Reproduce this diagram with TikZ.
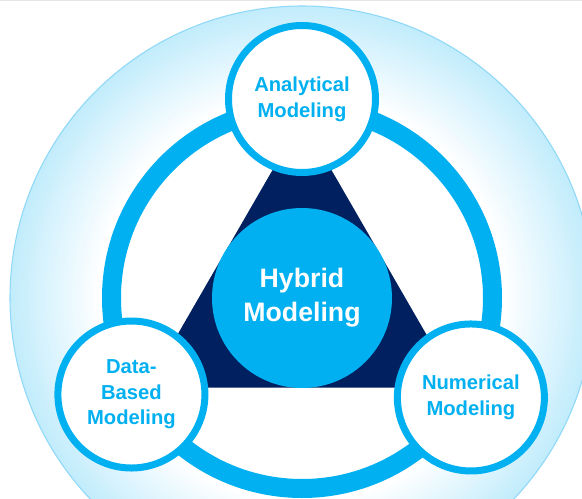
\documentclass[tikz,border=0pt]{standalone}
\usepackage{fontspec}
\setmainfont{Liberation Sans}
\usepackage{tikz}
\definecolor{ringblue}{HTML}{00B0F0}
\definecolor{navy}{HTML}{002060}
\definecolor{haloblue}{HTML}{C2ECFC}
\definecolor{haloedge}{HTML}{8ED8F8}
\tikzstyle{model}=[circle,draw=ringblue,line width=0.14cm,fill=white,minimum size=2.94cm,inner sep=0pt,
  align=center,text=ringblue,font=\fontsize{11.5pt}{14.6pt}\selectfont\bfseries]
\tikzstyle{hybrid}=[circle,fill=ringblue,minimum size=3.6cm,inner sep=0pt,
  align=center,text=white,font=\fontsize{15.2pt}{19.4pt}\selectfont\bfseries]
\tikzstyle{ring} = [draw=ringblue,line width=0.38cm]

\begin{document}
\begin{tikzpicture}
    % page and background glow
    \useasboundingbox (-6.04,-4.00) rectangle (5.60,5.96);
    \clip (-6.04,-4.00) rectangle (5.60,5.96);
    \fill[white] (-6.04,-4.00) rectangle (5.60,5.96);
    \draw[black!10, line width=0.04cm] (-6.04,5.95) -- (5.60,5.95);
    \foreach \i in {0,...,59} {
        \pgfmathsetmacro{\rad}{5.84-\i*0.03}
        \pgfmathsetmacro{\pct}{100*(1-\i/59)}
        \fill[haloblue!\pct!white] (0,0) circle (\rad);
    }
    \draw[haloedge, line width=0.6pt] (0,0) circle (5.84);

    % ring and triangle
    \path[ring] (0,0) circle (3.81);
    \fill[navy] (90:3.58) -- (210:3.58) -- (330:3.58) -- cycle;

    % centre
    \node[hybrid] (hybrid) at (0,0) {Hybrid\\Modeling};

    % the three approaches
    \foreach \pos/ \name/ \label in {{(90:3.98)/analytic/{Analytical\\Modeling}},
        {(209.5:3.92)/databased/{Data-\\Based\\Modeling}},
        {(329.5:3.92)/numeric/{Numerical\\Modeling}}}
        \node[model] (\name) at \pos {\label};
\end{tikzpicture}
\end{document}
